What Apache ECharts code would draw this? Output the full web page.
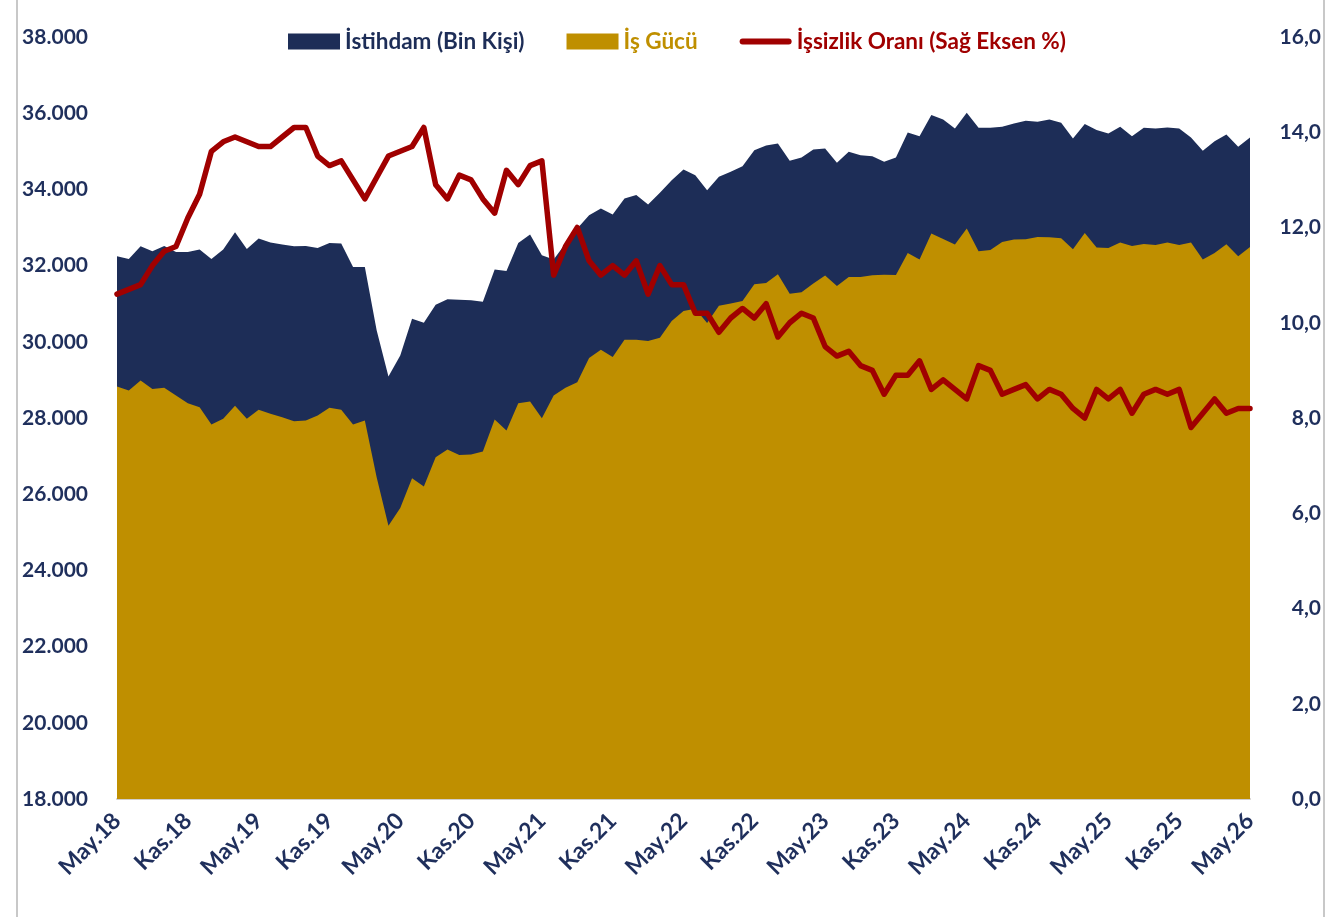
<!DOCTYPE html>
<html>
<head>
<meta charset="utf-8">
<script src="https://cdn.jsdelivr.net/npm/echarts@6/dist/echarts.min.js"></script>
<style>
html,body{margin:0;padding:0;background:#fff;}
#chart{width:1339px;height:917px;}
</style>
</head>
<body>
<div id="chart"></div>
<script>
const monthNames = ['May','Haz','Tem','Ağu','Eyl','Eki','Kas','Ara','Oca','Şub','Mar','Nis'];
const categories = [];
for (let i = 0; i < 97; i++) {
  const m = i % 12;
  const yr = 18 + Math.floor((i + 4) / 12);
  categories.push(monthNames[m] + '.' + yr);
}

const istihdam = [
32245,32174,32508,32376,32515,32358,32358,32420,32174,32420,
32875,32437,32710,32605,32552,32508,32516,32463,32594,32578,
31963,31963,30300,29091,29643,30607,30502,30975,31115,31106,
31088,31053,31895,31859,32594,32815,32271,32158,32578,32973,
33322,33498,33340,33761,33856,33603,33909,34242,34523,34373,
33979,34329,34461,34610,35030,35154,35206,34750,34838,35049,
35075,34697,34986,34899,34873,34723,34838,35495,35398,35950,
35837,35600,36011,35617,35617,35643,35732,35800,35774,35837,
35748,35338,35714,35556,35469,35643,35398,35617,35600,35626,
35600,35364,35012,35267,35443,35117,35364
];

const isGucu = [
28828,28723,28986,28758,28794,28592,28390,28285,27830,27980,
28321,27980,28216,28110,28022,27916,27935,28066,28268,28216,
27830,27935,26445,25175,25640,26418,26200,26970,27170,27030,
27040,27120,27961,27672,28390,28434,27996,28592,28794,28941,
29572,29793,29598,30055,30055,30019,30107,30544,30807,30870,
30492,30949,31002,31070,31509,31543,31772,31264,31299,31527,
31737,31464,31700,31700,31745,31763,31754,32332,32158,32841,
32700,32552,32973,32376,32411,32621,32683,32691,32752,32744,
32718,32429,32857,32473,32463,32605,32516,32568,32542,32605,
32542,32605,32158,32332,32560,32245,32489
];

const issizlik = [
10.6,10.7,10.8,11.2,11.5,11.6,12.2,12.7,13.6,13.8,
13.9,13.8,13.7,13.7,13.9,14.1,14.1,13.5,13.3,13.4,
13.0,12.6,13.05,13.5,13.6,13.7,14.1,12.9,12.6,13.1,
13.0,12.6,12.3,13.2,12.9,13.3,13.4,11.0,11.6,12.0,
11.3,11.0,11.2,11.0,11.3,10.6,11.2,10.8,10.8,10.2,
10.2,9.8,10.1,10.3,10.1,10.4,9.7,10.0,10.2,10.1,
9.5,9.3,9.4,9.1,9.0,8.5,8.9,8.9,9.2,8.6,
8.8,8.6,8.4,9.1,9.0,8.5,8.6,8.7,8.4,8.6,
8.5,8.2,8.0,8.6,8.4,8.6,8.1,8.5,8.6,8.5,
8.6,7.8,8.1,8.4,8.1,8.2,8.2
];

const NAVY = '#1D2D57';
const GOLD = '#BF8F00';
const RED = '#A00000';
const TXT = '#1F2F5C';
const FONT = 'Lato, "Open Sans", sans-serif';

const chart = echarts.init(document.getElementById('chart'), null, {renderer: 'canvas'});
chart.setOption({
  animation: false,
  backgroundColor: '#fff',
  textStyle: {fontFamily: FONT},
  grid: {left: 117, right: 89, top: 37, bottom: 118, containLabel: false},
  legend: {
    left: 283, top: 25,
    itemWidth: 52, itemHeight: 16, itemGap: 42,
    textStyle: {fontFamily: FONT, fontWeight: 'bold', fontSize: 22.5},
    data: [
      {name: 'İstihdam (Bin Kişi)', icon: 'rect', textStyle: {color: NAVY}},
      {name: 'İş Gücü', icon: 'rect', textStyle: {color: GOLD}},
      {name: 'İşsizlik Oranı (Sağ Eksen %)', icon: 'path://M3,0 L49,0 A3,3 0 0 1 49,6 L3,6 A3,3 0 0 1 3,0 Z', textStyle: {color: RED}}
    ]
  },
  xAxis: {
    type: 'category',
    data: categories,
    boundaryGap: false,
    axisLine: {show: true, lineStyle: {color: '#D0CECE', width: 2}},
    axisTick: {show: false},
    splitLine: {show: false},
    axisLabel: {
      interval: 5, rotate: 45, margin: 18,
      color: TXT, fontWeight: 'bold', fontSize: 23, fontFamily: FONT
    }
  },
  yAxis: [
    {
      type: 'value', min: 18000, max: 38000, interval: 2000,
      axisLine: {show: false}, axisTick: {show: false}, splitLine: {show: false},
      axisLabel: {
        margin: 29, color: TXT, fontWeight: 'bold', fontSize: 21, fontFamily: FONT,
        formatter: v => (v / 1000) + '.000'
      }
    },
    {
      type: 'value', min: 0, max: 16, interval: 2, position: 'right',
      axisLine: {show: false}, axisTick: {show: false}, splitLine: {show: false},
      axisLabel: {
        margin: 71, align: 'right', color: TXT, fontWeight: 'bold', fontSize: 21, fontFamily: FONT,
        formatter: v => v.toFixed(1).replace('.', ',')
      }
    }
  ],
  series: [
    {
      name: 'İstihdam (Bin Kişi)', type: 'line', data: istihdam, yAxisIndex: 0,
      symbol: 'none', lineStyle: {width: 0, color: NAVY}, itemStyle: {color: NAVY},
      areaStyle: {color: NAVY, opacity: 1, origin: 'start'}, z: 1
    },
    {
      name: 'İş Gücü', type: 'line', data: isGucu, yAxisIndex: 0,
      symbol: 'none', lineStyle: {width: 0, color: GOLD}, itemStyle: {color: GOLD},
      areaStyle: {color: GOLD, opacity: 1, origin: 'start'}, z: 2
    },
    {
      name: 'İşsizlik Oranı (Sağ Eksen %)', type: 'line', data: issizlik, yAxisIndex: 1,
      symbol: 'none', lineStyle: {width: 5.5, color: RED, join: 'round', cap: 'round'},
      itemStyle: {color: RED}, z: 3
    }
  ],
  graphic: [
    {type: 'line', shape: {x1: 17, y1: 0, x2: 17, y2: 917}, style: {stroke: '#C8C8C8', lineWidth: 2}},
    {type: 'line', shape: {x1: 1324, y1: 0, x2: 1324, y2: 917}, style: {stroke: '#C8C8C8', lineWidth: 2}}
  ]
});
</script>
</body>
</html>
